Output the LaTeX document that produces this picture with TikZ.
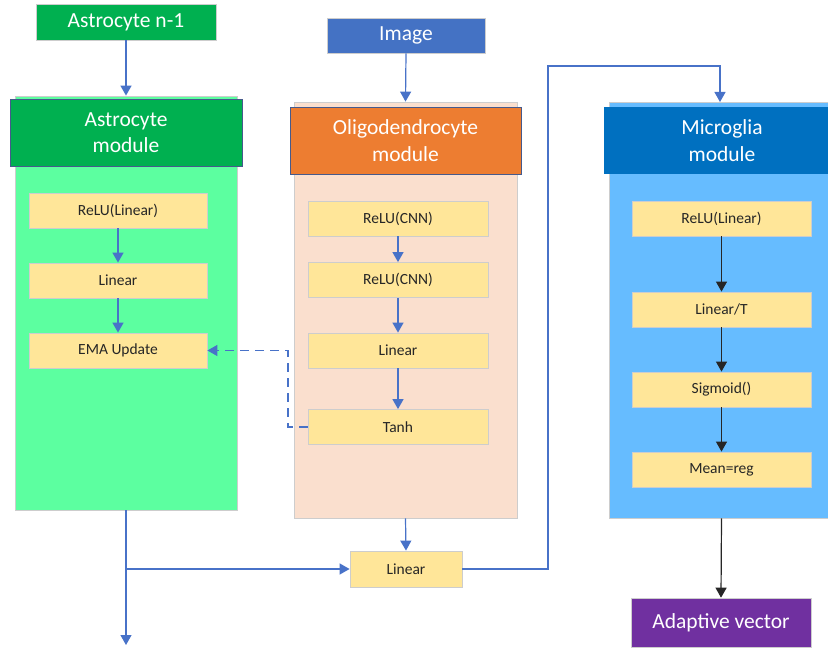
\documentclass[tikz,border=0pt]{standalone}
\usepackage{fontspec}
\setmainfont{Carlito}
\usetikzlibrary{arrows.meta}
\definecolor{cgreen}{RGB}{0,176,80}
\definecolor{clgreen}{RGB}{92,255,160}
\definecolor{cpeach}{RGB}{250,223,206}
\definecolor{corange}{RGB}{237,125,49}
\definecolor{clblue}{RGB}{102,188,255}
\definecolor{cdblue}{RGB}{0,112,192}
\definecolor{cyellow}{RGB}{255,230,153}
\definecolor{cpurple}{RGB}{112,48,160}
\definecolor{cimg}{RGB}{68,114,196}
\definecolor{carrow}{RGB}{72,114,200}
\definecolor{cgrayb}{RGB}{205,205,205}
\definecolor{chdrb}{RGB}{70,90,140}
\tikzset{
  bigtxt/.style={font=\fontsize{21.5}{26.5}\selectfont, text=white, align=center, inner sep=0pt},
  topbox/.style={bigtxt, draw=cgrayb, line width=0.6pt},
  bgbox/.style={draw=cgrayb, line width=0.8pt, inner sep=0pt},
  hdr/.style={bigtxt, draw=chdrb, line width=0.8pt},
  opbox/.style={fill=cyellow, draw=cgrayb, line width=0.8pt, inner sep=0pt,
    font=\fontsize{15.5}{18}\selectfont, text=black!85, minimum height=35pt},
  barrow/.style={draw=carrow, line width=1.2pt, -{Triangle[width=11pt,length=10pt]}},
  karrow/.style={draw=black!85, line width=1.2pt, -{Triangle[width=11pt,length=10pt]}},
  bline/.style={draw=carrow, line width=1.2pt},
}
\begin{document}
\begin{tikzpicture}[x=1pt,y=-1pt]
\useasboundingbox (0,0) rectangle (828,652);
\begin{scope}
\clip (0,0) rectangle (828,652);
% Astrocyte column
\node[topbox, fill=cgreen, minimum width=180pt, minimum height=36pt] (an1) at (126,22) {Astrocyte n-1};
\node[bgbox, fill=clgreen, minimum width=222pt, minimum height=414pt] (abg) at (126,303) {};
\node[hdr, fill=cgreen, minimum width=232pt, minimum height=67pt] (ahdr) at (126,132.5) {Astrocyte\\module};
\node[opbox, minimum width=178pt] (a1) at (118,210.5) {ReLU(Linear)};
\node[opbox, minimum width=178pt] (a2) at (118,280.5) {Linear};
\node[opbox, minimum width=178pt] (a3) at (118,350.5) {EMA Update};
% Oligodendrocyte column
\node[topbox, fill=cimg, minimum width=158pt, minimum height=35pt] (img) at (406,35.5) {Image};
\node[bgbox, fill=cpeach, minimum width=223pt, minimum height=416pt] (obg) at (405.5,310) {};
\node[hdr, fill=corange, minimum width=231pt, minimum height=67pt] (ohdr) at (405.5,140.5) {Oligodendrocyte\\module};
\node[opbox, minimum width=180pt] (o1) at (398,218.5) {ReLU(CNN)};
\node[opbox, minimum width=180pt] (o2) at (398,280) {ReLU(CNN)};
\node[opbox, minimum width=180pt] (o3) at (398,350.5) {Linear};
\node[opbox, minimum width=180pt] (o4) at (398,427) {Tanh};
% Microglia column
\node[bgbox, fill=clblue, minimum width=230pt, minimum height=416pt] (mbg) at (724,310) {};
\node[bigtxt, fill=cdblue, minimum width=236pt, minimum height=67pt] (mhdr) at (722,140.5) {Microglia\\module};
\node[opbox, minimum width=179pt] (m1) at (721.5,218.5) {ReLU(Linear)};
\node[opbox, minimum width=179pt] (m2) at (721.5,309.5) {Linear/T};
\node[opbox, minimum width=179pt] (m3) at (721.5,389.5) {Sigmoid()};
\node[opbox, minimum width=179pt] (m4) at (721.5,469.5) {Mean=reg};
\node[topbox, fill=cpurple, minimum width=180pt, minimum height=49pt] (av) at (721,622.5) {Adaptive vector};
% bottom Linear
\node[opbox, minimum width=112pt, minimum height=36pt] (lin) at (406,569) {Linear};
% coordinates
\coordinate (aout) at (126,645);
\coordinate (br) at (126,569);
\coordinate (c1) at (548,66);
\coordinate (mtop) at (720,102);
\coordinate (d1) at (288,427);
% connectors
\draw[barrow] (an1.south) -- (an1.south |- abg.north);
\draw[barrow] (a1) -- (a2);
\draw[barrow] (a2) -- (a3);
\draw[barrow] (img.south) -- (obg.north);
\draw[barrow] (o1) -- (o2);
\draw[barrow] (o2) -- (o3);
\draw[barrow] (o3) -- (o4);
\draw[barrow, dashed, dash pattern=on 9pt off 6pt] (o4.west) -- (d1) |- (a3.east);
\draw[karrow] (m1) -- (m2);
\draw[karrow] (m2) -- (m3);
\draw[karrow] (m3) -- (m4);
\draw[karrow] (m4.south |- mbg.south) -- (av.north);
\draw[barrow] (abg.south) -- (aout);
\draw[barrow] (br) -- (lin.west);
\draw[barrow] (obg.south) -- (lin.north);
\draw[barrow] (lin.east) -| (c1) -| (mtop);
\end{scope}
\end{tikzpicture}
\end{document}
